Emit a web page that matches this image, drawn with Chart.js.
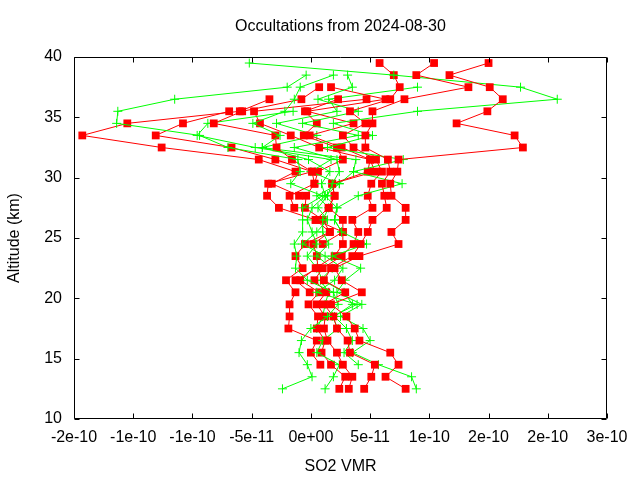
<!DOCTYPE html>
<html>
<head>
<meta charset="utf-8">
<script src="https://cdn.jsdelivr.net/npm/chart.js@4.4.1/dist/chart.umd.min.js"></script>
<style>
html, body { margin: 0; padding: 0; background: #fff; }
</style>
</head>
<body>
<canvas id="myChart" width="640" height="480"></canvas>
<script>
// SO2 VMR values are in units of 1e-11, altitudes in km
const altitudes = [12.5, 13.5, 14.5, 15.5, 16.5, 17.5, 18.5, 19.5, 20.5, 21.5, 22.5, 23.5, 24.5, 25.5,
                   26.5, 27.5, 28.5, 29.5, 30.5, 31.5, 32.5, 33.5, 34.5, 35.5, 36.5, 37.5, 38.5, 39.5];

const xTickValues = [-20, -15, -10, -5, 0, 5, 10, 15, 20, 25];
const xTickLabels = ["-2e-10", "-1e-10", "-1e-10", "-5e-11", "0e+00", "5e-11", "1e-10", "2e-10", "2e-10", "3e-10"];
const yTickValues = [10, 15, 20, 25, 30, 35, 40];

// red profiles (squares)
const red1 = [8.0, 6.3, 7.4, 6.7, 4.1, 3.7, 3.0, 1.7, 4.3, 2.6, 2.0, 4.1, 7.4, 6.8,
              8.0, 8.0, 6.8, 6.7, 7.3, 7.4, 17.9, 17.2, 12.3, 14.9, 16.2, 15.1, 11.7, 15.0];
const red2 = [4.5, 5.1, 5.4, 3.3, 3.1, 2.2, 1.9, 1.1, 2.9, 1.1, 1.7, 3.5, 4.2, 4.8,
              5.2, 6.4, 6.2, 6.0, 6.7, 6.5, 4.6, 4.6, 5.2, 5.2, 7.9, 13.3, 8.9, 10.4];
const red3 = [3.2, 3.5, 2.7, 2.2, 1.4, 1.1, 1.2, 0.5, 1.3, 0.3, 1.0, 2.6, 3.6, 4.0,
              3.5, 5.2, 4.8, 5.1, 6.0, 5.5, 3.6, 2.7, 4.6, 3.3, 6.7, 7.5, 7.0, 5.8];
const red4 = [2.4, 2.9, 1.7, 0.9, 1.2, 0.5, 0.6, -0.2, 0.7, -0.9, 0.4, 2.0, 2.7, 2.7,
              2.7, 1.5, 2.0, 1.8, 5.4, 5.0, 2.6, -0.1, 3.6, -0.3, 6.3, 1.7, null, null];
const red5 = [null, null, 0.8, 0.0, 0.5, -1.9, -1.8, -1.8, -1.3, -2.1, -0.7, -1.3, -0.5, 1.6,
              0.4, -2.7, -3.7, -3.6, 0.1, -1.6, -2.9, -3.0, -8.2, -5.8, -0.8, 0.7, null, null];
const red6 = [null, null, null, null, null, null, null, null, -0.1, -1.3, 0.6, 0.5, 0.2, 1.6,
              1.0, -0.5, -0.4, 0.3, 0.6, 2.7, 2.2, -0.6, 0.5, -0.5, 2.3, null, null, null];
const red7 = [null, null, null, null, null, null, null, null, null, null, null, null, null, null,
              null, null, -1.0, -3.3, -1.3, -4.4, -12.6, -19.3, -15.5, -6.0, -3.5, null, null, null];
const red8 = [null, null, null, null, null, null, null, null, null, null, null, null, null, null,
              null, -1.4, -1.8, 0.3, 0.1, -3.0, -6.7, -13.1, -10.8, -6.9, null, null, null, null];
const red9 = [null, null, null, null, null, null, null, null, null, null, null, null, 1.0, 2.7,
              0.4, 1.5, 2.0, 1.8, 4.8, 5.0, 0.7, -1.7, -4.3, -4.8, 4.7, null, null, null];

// green profiles (crosses)
const green1 = [-2.4, 0.1, -0.3, -1.0, -0.8, 0.0, 1.4, 2.3, 1.9, -0.3, -1.3, -1.2, -1.4, -0.7,
                -0.7, -0.7, 1.0, -1.7, -0.9, -1.1, -7.0, -9.4, -16.4, -16.3, -11.5, -2.0, -0.4, null];
const green2 = [8.9, 8.5, 5.7, 3.5, 5.0, 4.4, 2.5, 4.3, 2.2, 2.9, 4.2, 1.8, 4.7, 2.6,
                2.0, 2.2, 4.0, 7.7, 3.6, 7.8, 1.4, 5.2, 1.9, 9.0, 20.8, 17.7, 7.0, -5.2];
const green3 = [1.2, 1.9, 2.4, 0.5, 1.0, 2.3, 1.8, 3.9, 0.5, 2.0, 2.7, 1.2, -0.7, 0.5,
                1.4, 0.6, 1.4, 1.8, 2.4, 2.2, -1.4, 4.0, -0.7, 4.0, 0.6, 3.5, 3.1, null];
const green4 = [null, null, 4.0, 2.8, 3.5, 3.0, 2.0, 3.5, 2.8, 1.0, 0.5, -0.3, 0.5, 0.1,
                -0.3, 0.1, 1.2, 0.9, 1.6, -0.2, -4.1, -2.6, -4.9, -2.2, -1.4, -0.9, 1.9, null];
const green5 = [null, null, null, null, null, 0.5, 1.0, 1.2, 1.5, 0.8, 1.8, 0.5, 1.5, 1.0,
                1.0, 1.5, 0.5, 2.4, 0.0, 1.7, -4.7, -9.6, -8.7, -1.5, null, null, null, null];
const green6 = [null, null, null, null, null, null, null, null, null, null, null, null, null, 2.6,
                2.0, 2.2, 1.2, 2.4, 3.6, 3.8, -4.1, 0.5, -2.9, 2.2, 1.5, 9.0, null, null];

const redProfiles = [red1, red2, red3, red4, red5, red6, red7, red8, red9];
const greenProfiles = [green1, green2, green3, green4, green5, green6];

const FONT = "'Liberation Sans', Arial, sans-serif";

function toPoints(profile) {
    return profile.map((v, i) => ({x: v, y: altitudes[i]})).filter(p => p.x !== null);
}

function redSet(p) {
    return {
        data: toPoints(p),
        showLine: true,
        borderColor: '#ff0000',
        backgroundColor: '#ff0000',
        borderWidth: 1,
        pointStyle: 'rect',
        pointRadius: 5.5,
        pointBorderWidth: 0,
        pointBackgroundColor: '#ff0000',
        pointBorderColor: '#ff0000',
        tension: 0
    };
}

function greenSet(p) {
    return {
        data: toPoints(p),
        showLine: true,
        borderColor: '#00ff00',
        backgroundColor: '#00ff00',
        borderWidth: 1,
        pointStyle: 'cross',
        pointRadius: 4.5,
        pointBorderWidth: 1,
        pointBorderColor: '#00ff00',
        tension: 0
    };
}

const datasets = [];
for (let i = 0; i < Math.max(redProfiles.length, greenProfiles.length); i++) {
    if (redProfiles[i]) datasets.push(redSet(redProfiles[i]));
    if (greenProfiles[i]) datasets.push(greenSet(greenProfiles[i]));
}

// gnuplot style box with inward ticks on all four sides
const framePlugin = {
    id: 'frame',
    afterDatasetsDraw(chart) {
        const {ctx, chartArea: a, scales: {x, y}} = chart;
        const L = Math.round(a.left) + 0.5, R = Math.round(a.right) - 0.5;
        const T = Math.round(a.top) + 0.5, B = Math.round(a.bottom) - 0.5;
        const tl = 5;
        ctx.save();
        ctx.strokeStyle = '#000';
        ctx.lineWidth = 1;
        ctx.beginPath();
        ctx.rect(L, T, R - L, B - T);
        xTickValues.forEach(v => {
            const px = Math.round(x.getPixelForValue(v)) + 0.5;
            ctx.moveTo(px, B); ctx.lineTo(px, B - tl);
            ctx.moveTo(px, T); ctx.lineTo(px, T + tl);
        });
        yTickValues.forEach(v => {
            const py = Math.round(y.getPixelForValue(v)) + 0.5;
            ctx.moveTo(L, py); ctx.lineTo(L + tl, py);
            ctx.moveTo(R, py); ctx.lineTo(R - tl, py);
        });
        ctx.stroke();
        ctx.restore();
    }
};

new Chart(document.getElementById('myChart').getContext('2d'), {
    type: 'scatter',
    data: { datasets: datasets },
    plugins: [framePlugin],
    options: {
        responsive: false,
        animation: false,
        devicePixelRatio: 1,
        layout: { padding: { left: 0, right: 33, top: 0, bottom: 0 } },
        plugins: {
            legend: { display: false },
            tooltip: { enabled: false },
            title: {
                display: true,
                text: 'Occultations from 2024-08-30',
                fullSize: false,
                color: '#000',
                font: { family: FONT, size: 16, weight: 'normal' },
                padding: { top: 17, bottom: 20.8 }
            }
        },
        scales: {
            x: {
                type: 'linear',
                min: -20,
                max: 25,
                afterFit: s => { s.height = 61; },
                afterBuildTicks: s => { s.ticks = xTickValues.map(v => ({value: v})); },
                grid: { display: false, drawTicks: false },
                border: { display: false },
                ticks: {
                    autoSkip: false,
                    maxRotation: 0,
                    padding: 9,
                    color: '#000',
                    font: { family: FONT, size: 16 },
                    callback: v => xTickLabels[xTickValues.indexOf(v)]
                },
                title: {
                    display: true,
                    text: 'SO2 VMR',
                    color: '#000',
                    font: { family: FONT, size: 16 },
                    padding: { top: 0, bottom: 4 }
                }
            },
            y: {
                type: 'linear',
                min: 10,
                max: 40,
                afterFit: s => { s.width = 74; },
                afterBuildTicks: s => { s.ticks = yTickValues.map(v => ({value: v})); },
                grid: { display: false, drawTicks: false },
                border: { display: false },
                ticks: {
                    padding: 12,
                    color: '#000',
                    font: { family: FONT, size: 16 }
                },
                title: {
                    display: true,
                    text: 'Altitude (km)',
                    color: '#000',
                    font: { family: FONT, size: 16 },
                    padding: { top: 5, bottom: 0 }
                }
            }
        }
    }
});
</script>
</body>
</html>
